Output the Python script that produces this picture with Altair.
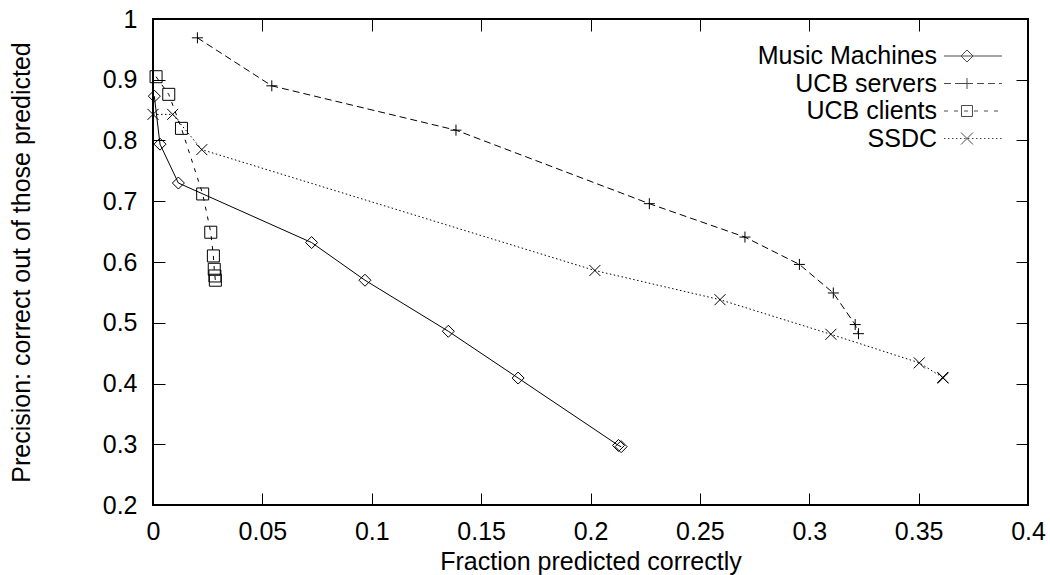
import altair as alt
import pandas as pd

# ---- data -------------------------------------------------------------
SERIES = ["Music Machines", "UCB servers", "UCB clients", "SSDC"]

music_x = [0.0006, 0.0032, 0.0116, 0.0725, 0.0969, 0.1350, 0.1669, 0.2128, 0.2140]
music_y = [0.873, 0.794, 0.730, 0.632, 0.570, 0.486, 0.409, 0.298, 0.296]

servers_x = [0.0203, 0.0543, 0.1385, 0.2269, 0.2706, 0.2955, 0.3110, 0.3210, 0.3225]
servers_y = [0.969, 0.890, 0.817, 0.696, 0.641, 0.596, 0.549, 0.497, 0.482]

clients_x = [0.0014, 0.0072, 0.0130, 0.0227, 0.0264, 0.0276, 0.0280, 0.0283, 0.0285]
clients_y = [0.905, 0.876, 0.820, 0.712, 0.649, 0.610, 0.588, 0.577, 0.570]

ssdc_x = [0.0000, 0.0090, 0.0223, 0.2020, 0.2592, 0.3099, 0.3503, 0.3610, 0.3612]
ssdc_y = [0.843, 0.843, 0.785, 0.586, 0.538, 0.481, 0.434, 0.410, 0.409]

x_ticks = [0, 0.05, 0.1, 0.15, 0.2, 0.25, 0.3, 0.35, 0.4]
y_ticks = [0.2, 0.3, 0.4, 0.5, 0.6, 0.7, 0.8, 0.9, 1.0]

frames = []
for name, xs, ys in zip(SERIES,
                        [music_x, servers_x, clients_x, ssdc_x],
                        [music_y, servers_y, clients_y, ssdc_y]):
    frames.append(pd.DataFrame({"series": name, "x": xs, "y": ys,
                                "order": list(range(len(xs)))}))
df = pd.concat(frames, ignore_index=True)

# ---- styling ----------------------------------------------------------
FONT = "Liberation Sans"
FS = 25
W, H = 875, 486

def diamond(cx, h):
    return f"M{cx:.3f},{-h:.3f}L{cx + h:.3f},0L{cx:.3f},{h:.3f}L{cx - h:.3f},0Z"

def plus(cx, h):
    return f"M{cx - h:.3f},0L{cx + h:.3f},0M{cx:.3f},{-h:.3f}L{cx:.3f},{h:.3f}"

def square(cx, h):
    return (f"M{cx - h:.3f},{-h:.3f}L{cx + h:.3f},{-h:.3f}"
            f"L{cx + h:.3f},{h:.3f}L{cx - h:.3f},{h:.3f}Z")

def cross(cx, h):
    return (f"M{cx - h:.3f},{-h:.3f}L{cx + h:.3f},{h:.3f}"
            f"M{cx - h:.3f},{h:.3f}L{cx + h:.3f},{-h:.3f}")

STYLE = {
    "Music Machines": dict(dash=None, marker=diamond, size=144, half=6.0),
    "UCB servers": dict(dash=[7, 4], marker=plus, size=121, half=5.5),
    "UCB clients": dict(dash=[4, 6], marker=square, size=144, half=5.5),
    "SSDC": dict(dash=[1.5, 2.5], marker=cross, size=121, half=6.0),
}

# legend sample: a 58 px line segment with the marker drawn on it.
# The symbol is sized at 24 px (one path unit = 12 px) so the rows stay tight;
# the path simply reaches beyond the unit box.
KEY_SIZE = 24.0
UNIT = KEY_SIZE / 2
SAMPLE_HALF = 29.0
MARK_SHIFT = -6.0

def legend_symbol(dash, marker, half):
    parts = []
    if dash is None:
        parts.append(f"M{-SAMPLE_HALF / UNIT:.3f},0L{SAMPLE_HALF / UNIT:.3f},0")
    else:
        on, off = dash
        pos = -SAMPLE_HALF
        while pos < SAMPLE_HALF:
            end = min(pos + on, SAMPLE_HALF)
            parts.append(f"M{pos / UNIT:.3f},0L{end / UNIT:.3f},0")
            pos += on + off
    parts.append(marker(MARK_SHIFT / UNIT, half / UNIT))
    return "".join(parts)

x_scale = alt.Scale(domain=[0, 0.4], nice=False, zero=False)
y_scale = alt.Scale(domain=[0.2, 1.0], nice=False, zero=False)

empty = alt.Chart(df).transform_filter(alt.datum.x < -1)


def tick_axis(orient, values, offset):
    return alt.Axis(orient=orient, values=values, offset=offset, labels=False,
                    domain=False, grid=False, title=None, ticks=True,
                    tickSize=12, tickWidth=1, tickColor="black")


# main axes: labels and titles only
main_axes = empty.mark_point(opacity=0).encode(
    x=alt.X("x:Q", scale=x_scale, axis=alt.Axis(
        orient="bottom", values=x_ticks, format="~g", ticks=False, domain=False,
        grid=False, labelFont=FONT, labelFontSize=FS, labelColor="black",
        labelPadding=14, labelOverlap=False, labelFlush=False,
        title="Fraction predicted correctly", titleFont=FONT, titleFontSize=FS,
        titleFontWeight="normal", titleColor="black", titlePadding=5)),
    y=alt.Y("y:Q", scale=y_scale, axis=alt.Axis(
        orient="left", values=y_ticks, format="~g", ticks=False, domain=False,
        grid=False, labelFont=FONT, labelFontSize=FS, labelColor="black",
        labelPadding=16, labelOverlap=False, labelFlush=False,
        title="Precision: correct out of those predicted", titleFont=FONT,
        titleFontSize=FS, titleFontWeight="normal", titleColor="black",
        titlePadding=68)),
)

# inward ticks on the bottom and left edges
ticks_a = empty.mark_point(opacity=0).encode(
    x=alt.X("x:Q", scale=x_scale, axis=tick_axis("top", x_ticks, -H)),
    y=alt.Y("y:Q", scale=y_scale, axis=tick_axis("right", y_ticks, -W)),
)
# inward ticks on the top and right edges
ticks_b = empty.mark_point(opacity=0).encode(
    x=alt.X("x:Q", scale=x_scale, axis=tick_axis("bottom", x_ticks, -H)),
    y=alt.Y("y:Q", scale=y_scale, axis=tick_axis("left", y_ticks, -W)),
)

layers = [main_axes, ticks_a, ticks_b]

for name in SERIES:
    st = STYLE[name]
    sub = alt.Chart(df).transform_filter(alt.datum.series == name)
    line_kw = dict(color="black", strokeWidth=1, clip=False)
    if st["dash"] is not None:
        line_kw["strokeDash"] = st["dash"]
    line = sub.mark_line(**line_kw).encode(
        x=alt.X("x:Q", scale=x_scale, axis=None),
        y=alt.Y("y:Q", scale=y_scale, axis=None),
        order="order:Q",
    )
    pts = sub.mark_point(shape=st["marker"](0, 1), filled=False, color="black",
                         strokeWidth=1, size=st["size"], opacity=1,
                         clip=False).encode(
        x=alt.X("x:Q", scale=x_scale, axis=None),
        y=alt.Y("y:Q", scale=y_scale, axis=None),
    )
    layers += [line, pts]

legend_paths = [legend_symbol(STYLE[s]["dash"], STYLE[s]["marker"], STYLE[s]["half"])
                for s in SERIES]

key = empty.mark_point(filled=False, color="black", strokeWidth=1).encode(
    shape=alt.Shape("series:N",
                    scale=alt.Scale(domain=SERIES, range=legend_paths),
                    legend=alt.Legend(
                        title=None, orient="none", legendX=807.5, legendY=24.5,
                        padding=0, symbolOffset=0,
                        symbolSize=KEY_SIZE ** 2, symbolStrokeWidth=1,
                        symbolStrokeColor="black", symbolFillColor="transparent",
                        labelFont=FONT, labelFontSize=FS, labelColor="black",
                        labelAlign="right", labelOffset={"expr": "-48.5"},
                        labelLimit=400, rowPadding=1.5)),
)
layers.append(key)

chart = alt.layer(*layers).resolve_axis(
    x="independent", y="independent"
).properties(
    width=W, height=H,
    autosize=alt.AutoSizeParams(type="none"),
    padding={"left": 153, "top": 19, "right": 22, "bottom": 70},
    background="white",
).configure_view(
    stroke="black", strokeWidth=2, fill="white"
)

chart.save("out.html", embed_options={"renderer": "svg", "actions": False})
